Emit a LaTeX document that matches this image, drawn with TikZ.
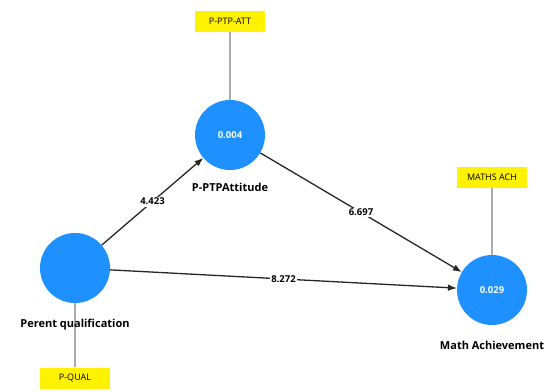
\documentclass[tikz,border=0pt]{standalone}
\usepackage{fontspec}
\setsansfont{Open Sans}
\usepackage{xcolor}
\usepackage{tikz}
\usetikzlibrary{arrows.meta,positioning}
\definecolor{lvblue}{RGB}{30,144,255}
\tikzset{
  latent/.style={circle, fill=lvblue, minimum size=70pt, inner sep=0pt, text=white, font=\sffamily\bfseries\fontsize{9.5}{10}\selectfont},
  indic/.style={fill=yellow, minimum width=70pt, minimum height=21pt, inner sep=3pt, font=\sffamily\fontsize{9}{10}\selectfont},
  lvname/.style={inner sep=1pt, font=\sffamily\bfseries\fontsize{11}{12}\selectfont},
  coef/.style={fill=white, inner sep=1.5pt, font=\sffamily\bfseries\fontsize{9.5}{10}\selectfont},
  link/.style={draw=gray!65, line width=1.3pt},
  arrow/.style={-Latex, line width=1.3pt, draw=black!85}
}

\begin{document}
\begin{tikzpicture}[x=1pt, y=-1pt]
    \useasboundingbox (0,0) rectangle (553,391);

    \node[latent] (pq) at (75,268) {};
    \node[latent] (att) at (230,135) {0.004};
    \node[latent] (ma) at (492,290) {0.029};

    \node[indic] (ptpatt) at (230,21) {P-PTP-ATT};
    \node[indic] (qual) at (75,378) {P-QUAL};
    \node[indic] (mathsach) at (492,177) {MATHS ACH};

    \draw[link] (ptpatt) -- (att);
    \draw[link] (mathsach) -- (ma);
    \draw[link] (qual) -- (pq);

    \node[lvname, below=12pt of att] (attname) {P-PTPAttitude};
    \node[lvname, below=15pt of pq] (pqname) {Perent qualification};
    \node[lvname, below=15pt of ma] (maname) {Math Achievement};

    \draw[arrow] (pq) -- node[coef] {4.423} (att);
    \draw[arrow] (att) -- node[coef] {6.697} (ma);
    \draw[arrow] (pq) -- node[coef] {8.272} (ma);
  \end{tikzpicture}
\end{document}
